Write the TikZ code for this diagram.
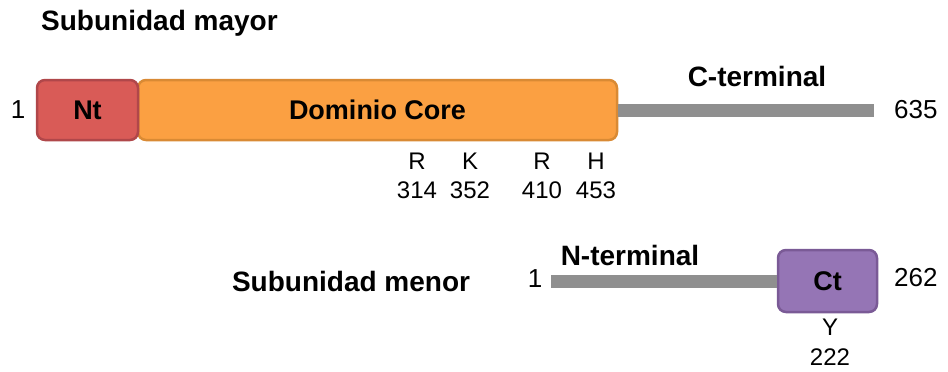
\documentclass[tikz,border=0pt]{standalone}
\usepackage{fontspec}
\setmainfont{Liberation Sans}
\definecolor{ntfill}{HTML}{D95B57}
\definecolor{ntdraw}{HTML}{B0474A}
\definecolor{corefill}{HTML}{FBA042}
\definecolor{coredraw}{HTML}{D98A34}
\definecolor{ctfill}{HTML}{9575B5}
\definecolor{ctdraw}{HTML}{7A5A96}
\definecolor{linkgray}{HTML}{8F8F8F}
\begin{document}
\begin{tikzpicture}[x=1pt,y=-1pt,
  protbox/.style={rectangle,rounded corners=8pt,line width=2.5pt,inner sep=0pt,
    font=\fontsize{27}{29}\selectfont\bfseries},
  linker/.style={draw=linkgray,line width=13pt},
  title/.style={font=\fontsize{28}{30}\selectfont\bfseries,inner sep=0pt},
  num/.style={font=\fontsize{26}{28}\selectfont,inner sep=0pt},
  res/.style={font=\fontsize{24}{26}\selectfont,inner sep=0pt}]
\useasboundingbox (0,0) rectangle (948,372);
% large subunit
\node[title,anchor=base west] (tmay) at (41,30) {Subunidad mayor};
\coordinate (cend) at (874,110);
\node[protbox,fill=corefill,draw=coredraw,minimum width=479pt,minimum height=60pt] (core) at (377.5,110) {Dominio Core};
\draw[linker] (core.east) -- (cend);
\node[protbox,fill=ntfill,draw=ntdraw,minimum width=101pt,minimum height=60pt] (nt) at (87.5,110) {Nt};
\node[num] (n1) at (18,110) {1};
\node[title] (cterm) at (757,76) {C-terminal};
\node[num,anchor=west] (n635) at (894,110) {635};
\node[res] (r1) at (417,161) {R};
\node[res] (r1n) at (417,190) {314};
\node[res] (k1) at (470,161) {K};
\node[res] (k1n) at (470,190) {352};
\node[res] (r2) at (542,161) {R};
\node[res] (r2n) at (542,190) {410};
\node[res] (h1) at (596,161) {H};
\node[res] (h1n) at (596,190) {453};
% small subunit
\node[title] (tmen) at (351,281) {Subunidad menor};
\coordinate (nstart) at (551,281);
\node[protbox,fill=ctfill,draw=ctdraw,minimum width=99pt,minimum height=62pt] (ct) at (827.5,281) {Ct};
\draw[linker] (nstart) -- (ct.west);
\node[num] (m1) at (535,279) {1};
\node[title] (nterm) at (630,255) {N-terminal};
\node[num,anchor=west] (n262) at (894,278) {262};
\node[res] (y1) at (830,327) {Y};
\node[res] (y1n) at (830,357) {222};
\end{tikzpicture}
\end{document}
